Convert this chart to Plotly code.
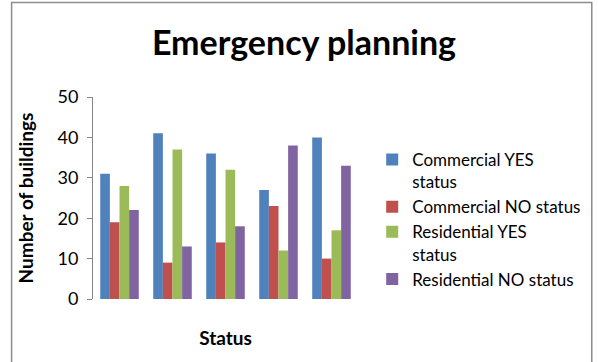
import plotly.graph_objects as go

categories = ["1", "2", "3", "4", "5"]
series_names = ["Commercial YES<br>status", "Commercial NO status",
                "Residential YES<br>status", "Residential NO status"]
commercial_yes = [31, 41, 36, 27, 40]
commercial_no = [19, 9, 14, 23, 10]
residential_yes = [28, 37, 32, 12, 17]
residential_no = [22, 13, 18, 38, 33]
y_ticks = [0, 10, 20, 30, 40, 50]

colors = ["#4F81BD", "#C0504D", "#9BBB59", "#8064A2"]
values = [commercial_yes, commercial_no, residential_yes, residential_no]

FONT = "Lato"
W, H = 598, 362
L, R, T, B = 93, 225, 97, 63

fig = go.Figure()
for i, (name, vals, col) in enumerate(zip(series_names, values, colors)):
    fig.add_trace(go.Bar(x=categories, y=vals, name=name, marker_color=col,
                         marker_line_width=0, legendgroup=f"g{i}"))

pw = W - L - R
ph = H - T - B
def px_x(p):
    return (p - L) / pw
def px_y(p):
    return (H - B - p) / ph

fig.update_layout(
    width=W, height=H,
    margin=dict(l=L, r=R, t=T, b=B),
    paper_bgcolor="white", plot_bgcolor="white",
    font=dict(family=FONT, color="black", size=14),
    barmode="group", bargap=0.273, bargroupgap=0,
    title=dict(text="<b>Emergency planning</b>", xref="container", x=304 / W,
               xanchor="center", yref="container", y=1 - 43 / H, yanchor="middle",
               font=dict(family=FONT, size=34, color="black")),
    xaxis=dict(showticklabels=False, showline=False, ticks="",
               title=dict(text="<b>Status</b>", font=dict(size=19), standoff=32)),
    yaxis=dict(range=[0, 50], tickvals=y_ticks, showgrid=False, zeroline=False,
               showline=True, linecolor="#868686", linewidth=1,
               ticks="outside", ticklen=5, tickcolor="#868686",
               tickfont=dict(size=18), ticklabelstandoff=5,
               title=dict(text="<b>Number of buildings</b>", font=dict(size=19), standoff=18)),
    legend=dict(x=px_x(388), xanchor="left", y=px_y(142), yanchor="top",
                font=dict(size=17), valign="top", bgcolor="rgba(0,0,0,0)",
                tracegroupgap=0, entrywidth=150, entrywidthmode="pixels"),
    showlegend=True,
)

fig.add_shape(type="rect", xref="paper", yref="paper",
              x0=px_x(7), x1=px_x(620), y0=px_y(400), y1=px_y(2.5),
              line=dict(color="#8C8C8C", width=1.5), fillcolor="rgba(0,0,0,0)",
              layer="below")

fig.write_html("out.html")
